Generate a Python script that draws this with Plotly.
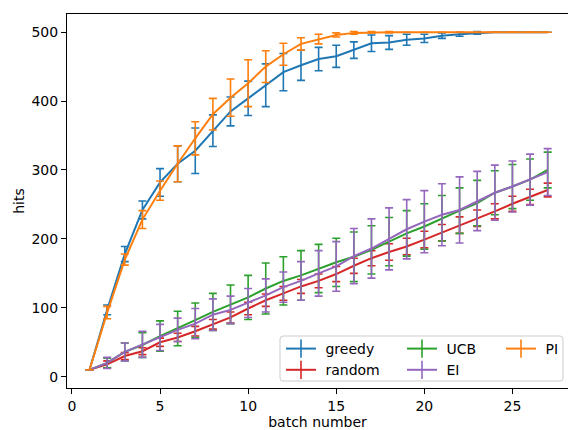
import plotly.graph_objects as go

# batch index and mean hits (± std) for each acquisition strategy
batch = list(range(1, 28))

greedy = [10, 97, 178, 242, 282, 309, 328, 357, 385, 404, 423, 442, 452, 461, 465, 474,
          484, 485, 489, 491, 495, 497, 499, 500, 500, 500, 500]
greedy_err = [0, 7, 11, 13, 20, 26, 33, 23, 21, 25, 31, 27, 22, 17, 16, 12,
              12, 10, 8, 6, 4, 3, 2, 0, 0, 0, 0]

random_ = [10, 18, 30, 37, 50, 57, 66, 76, 86, 99, 111, 121, 131, 139, 149, 161,
           172, 181, 189, 199, 209, 220, 230, 240, 251, 261, 271]
random_err = [0, 5, 5, 5, 6, 6, 7, 7, 8, 9, 9, 10, 10, 10, 11, 11,
              11, 12, 12, 12, 12, 12, 12, 11, 11, 11, 10]

ucb = [10, 20, 36, 46, 59, 70, 82, 94, 105, 115, 128, 139, 147, 157, 166, 174,
       184, 196, 208, 218, 230, 241, 252, 267, 276, 286, 300]
ucb_err = [0, 7, 13, 18, 22, 25, 25, 27, 28, 32, 37, 35, 36, 35, 35, 36,
           35, 35, 33, 33, 33, 33, 33, 32, 32, 30, 26]

ei = [10, 20, 36, 47, 57, 68, 77, 90, 97, 107, 118, 130, 139, 150, 160, 175,
      186, 200, 214, 225, 235, 242, 255, 267, 276, 286, 297]
ei_err = [0, 8, 13, 19, 19, 17, 22, 23, 20, 21, 24, 22, 28, 33, 36, 40,
          43, 45, 43, 45, 45, 48, 43, 40, 37, 37, 34]

pi = [10, 93, 170, 228, 270, 309, 346, 381, 405, 426, 450, 468, 483, 490, 496, 499,
      500, 500, 500, 500, 500, 500, 500, 500, 500, 500, 500]
pi_err = [0, 9, 8, 13, 14, 26, 24, 23, 27, 34, 23, 16, 9, 7, 3, 2,
          1, 1, 0, 0, 0, 0, 0, 0, 0, 0, 0]

series = [
    # name, values, errors, colour, legend column, rank
    ("greedy", greedy, greedy_err, "#1f77b4", "legend", 1),
    ("random", random_, random_err, "#d62728", "legend", 2),
    ("UCB", ucb, ucb_err, "#2ca02c", "legend2", 3),
    ("EI", ei, ei_err, "#9467bd", "legend2", 4),
    ("PI", pi, pi_err, "#ff7f0e", "legend3", 5),
]

FONT = "DejaVu Sans"
W, H = 568, 430
L, R, T, B = 67, 0, 14, 42
PW, PH = W - L - R, H - T - B

fig = go.Figure()
for name, vals, errs, col, leg, rank in series:
    fig.add_trace(go.Scatter(
        x=batch, y=vals, name=name, mode="lines",
        line=dict(color=col, width=2),
        error_y=dict(type="data", array=errs, visible=True,
                     color=col, thickness=1.6, width=4),
        showlegend=False,
    ))

# legend handles: a line crossed by an error-bar tick
for name, vals, errs, col, leg, rank in series:
    fig.add_trace(go.Scatter(
        x=[None], y=[None], name="\u00a0" + name, mode="lines+markers",
        line=dict(color=col, width=2),
        marker=dict(symbol="line-ns", size=13, color=col,
                    line=dict(color=col, width=1.6)),
        legend=leg, legendrank=rank, hoverinfo="skip",
    ))


def px_x(p):
    return (p - L) / PW


def px_y(p):
    return (H - B - p) / PH


# legend frame with slightly rounded corners
x0, x1, y0, y1, r = px_x(280), px_x(563), px_y(336), px_y(381), 3
rx, ry = r / PW, r / PH
frame = (f"M{x0+rx},{y0} L{x1-rx},{y0} Q{x1},{y0} {x1},{y0-ry} "
         f"L{x1},{y1+ry} Q{x1},{y1} {x1-rx},{y1} L{x0+rx},{y1} "
         f"Q{x0},{y1} {x0},{y1+ry} L{x0},{y0-ry} Q{x0},{y0} {x0+rx},{y0} Z")

fig.add_shape(type="path", path=frame, xref="paper", yref="paper",
              fillcolor="rgba(255,255,255,0.8)",
              line=dict(color="#cccccc", width=1), layer="above")

leg_common = dict(bgcolor="rgba(0,0,0,0)", borderwidth=0,
                  font=dict(family=FONT, size=14, color="black"),
                  xanchor="left", yanchor="top", tracegroupgap=0)

fig.update_layout(
    width=W, height=H,
    margin=dict(l=L, r=R, t=T, b=B, autoexpand=False),
    paper_bgcolor="white", plot_bgcolor="white",
    font=dict(family=FONT, size=14, color="black"),
    showlegend=True,
    legend=dict(x=px_x(281), y=px_y(333), **leg_common),
    legend2=dict(x=px_x(402), y=px_y(333), **leg_common),
    legend3=dict(x=px_x(501), y=px_y(333), **leg_common),
    xaxis=dict(
        range=[-0.28, -0.28 + PW / 17.62],
        tickvals=[0, 5, 10, 15, 20, 25],
        showgrid=False, zeroline=False, automargin=False,
        showline=True, linecolor="black", linewidth=1, mirror=True,
        ticks="outside", ticklen=5, tickwidth=1, tickcolor="black",
        tickfont=dict(family=FONT, size=14),
        title=dict(text="batch number", font=dict(family=FONT, size=14), standoff=9),
    ),
    yaxis=dict(
        range=[-16.4, 526.4],
        tickvals=[0, 100, 200, 300, 400, 500],
        showgrid=False, zeroline=False, automargin=False,
        showline=True, linecolor="black", linewidth=1,
        ticks="outside", ticklen=5, tickwidth=1, tickcolor="black",
        tickfont=dict(family=FONT, size=14),
        title=dict(text="hits", font=dict(family=FONT, size=14), standoff=3),
    ),
)

fig.write_html("out.html")
